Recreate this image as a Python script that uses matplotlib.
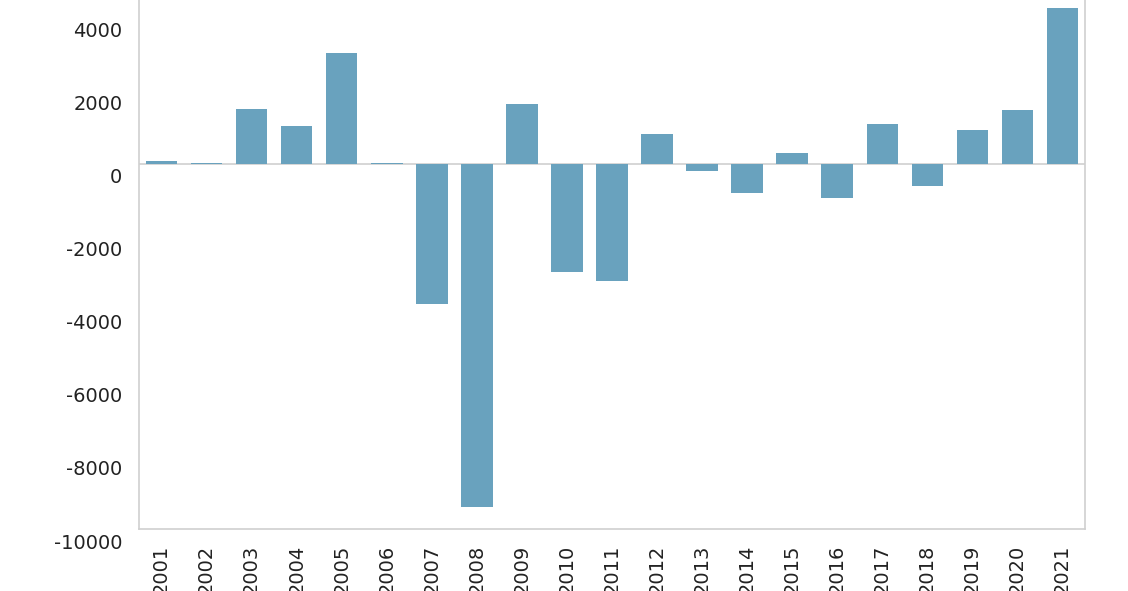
import matplotlib
matplotlib.use("Agg")
import matplotlib.pyplot as plt
from matplotlib.transforms import ScaledTranslation

years = [str(y) for y in range(2001, 2022)]
values = [90, 30, 1510, 1050, 3050, 20, -3850, -9400, 1630, -2970, -3210,
          825, -185, -810, 310, -920, 1080, -600, 940, 1470, 4270]

bar_color = "#69a2be"
grey = "#cfcfcf"

plt.rcParams["axes.unicode_minus"] = False

fig = plt.figure(figsize=(11.28, 5.91), dpi=100)
ax = fig.add_axes([0.1232, 0.1049, 0.8387, 0.8951])

x = list(range(len(years)))
ax.bar(x, values, width=0.7, color=bar_color, zorder=2)
ax.axhline(0, color=grey, linewidth=1.2, zorder=1)

ax.set_xlim(-0.5, len(years) - 0.5)
ax.set_ylim(-10000, 4490)
ax.set_yticks(range(-10000, 4001, 2000))
ax.set_xticks(x)
ax.set_xticklabels(years, rotation=90, fontsize=14, color="#222222")
ax.tick_params(axis="y", labelsize=14, labelcolor="#222222", pad=12)
ax.tick_params(axis="x", pad=11)
ax.tick_params(length=0)

# the y labels sit a bit below their values in the original
shift = ScaledTranslation(0, -12 / 100, fig.dpi_scale_trans)
for lab in ax.get_yticklabels():
    lab.set_transform(lab.get_transform() + shift)

for side in ["left", "right", "bottom"]:
    ax.spines[side].set_color(grey)
    ax.spines[side].set_linewidth(1.2)
ax.spines["top"].set_visible(False)

fig.savefig("out.png", dpi=100)
